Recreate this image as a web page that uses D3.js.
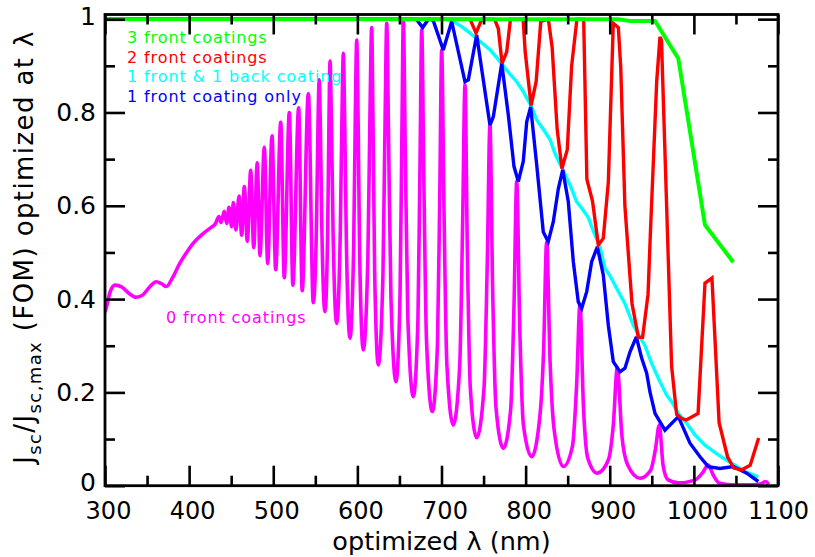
<!DOCTYPE html>
<html>
<head>
<meta charset="utf-8">
<script src="https://cdn.jsdelivr.net/npm/d3@7"></script>
<style>
  html, body { margin: 0; padding: 0; background: #fff; }
  svg { display: block; }
  text { font-family: "DejaVu Sans", sans-serif; fill: #000; }
</style>
</head>
<body>
<svg id="chart" width="815" height="557"></svg>
<script>
// ---------------- DATA ----------------
const xMajorTicks = [300, 400, 500, 600, 700, 800, 900, 1000, 1100];
const xMinorTicks = [350, 450, 550, 650, 750, 850, 950, 1050];
const yMajorTicks = [0, 0.2, 0.4, 0.6, 0.8, 1];
const yMinorTicks = [0.1, 0.3, 0.5, 0.7, 0.9];
const xTickLabels = ["300", "400", "500", "600", "700", "800", "900", "1000", "1100"];
const yTickLabels = ["0", "0.2", "0.4", "0.6", "0.8", "1"];

const legendLabels = ["3 front coatings", "2 front coatings", "1 front & 1 back coating", "1 front coating only"];
const magentaLabel = "0 front coatings";

// 0 front coatings (magenta)
const zeroWl = [300, 302, 306, 312, 320, 328, 337, 345, 353, 361, 367, 373, 380, 389, 397, 405, 417, 425, 431,
  435.5, 437.9, 441.8, 444.7, 447.4, 450.6, 452.5, 455.7, 459.3, 462.5, 465.6, 469.2, 473.2, 476.8, 481.0, 484.2,
  489.4, 493.4, 498.5, 502.9, 508.9, 513.1, 519.1, 523.3, 530.2, 534.4, 541.7, 547.6,
  551.5, 553.2, 554.6, 556.0, 557.7, 561.5, 564.8, 566.3, 567.5, 569.1, 571.1, 575.4, 579.7, 581.7, 583.3, 584.9, 586.9,
  591.2, 595.6, 597.6, 599.2, 600.8, 602.7, 607.0, 612.5, 615.0, 617.0, 618.6, 620.6, 624.9, 630.4, 632.9, 634.9,
  637.1, 639.9, 645.9, 650.7, 652.9, 654.6, 657.0, 660.0, 666.5, 672.0, 674.5, 676.5, 679.0, 682.2, 689.1,
  695.2, 698.0, 700.2, 703.0, 706.4, 714.0, 721.6, 725.1, 727.9, 730.7, 734.2, 741.8, 750.5, 754.4, 757.6,
  760.8, 764.8, 773.5, 782.2, 786.2, 789.4, 793.0, 797.4, 807.2, 817.0, 821.4, 825.0, 829.0, 833.9, 844.8,
  855.7, 860.6, 864.6, 868.7, 873.9, 885.2, 898.3, 904.2, 909.0, 914.4, 921.2, 936.0, 948.6, 954.3, 958.9,
  963.4, 969.1, 981.5, 1001.1, 1010.0, 1017.1, 1022.7, 1029.7, 1045.0, 1070.0, 1080.0, 1085.0, 1089.0];
const zeroVal = [0.372, 0.385, 0.415, 0.430, 0.426, 0.413, 0.404, 0.409, 0.426, 0.437, 0.433, 0.427, 0.445, 0.477, 0.500, 0.520, 0.541, 0.552, 0.561,
  0.577, 0.564, 0.588, 0.562, 0.597, 0.555, 0.607, 0.548, 0.621, 0.537, 0.641, 0.524, 0.676, 0.510, 0.692, 0.493,
  0.726, 0.476, 0.750, 0.463, 0.779, 0.446, 0.800, 0.430, 0.810, 0.418, 0.840, 0.392,
  0.570, 0.776, 0.870, 0.772, 0.558, 0.373, 0.561, 0.792, 0.910, 0.786, 0.545, 0.348, 0.545, 0.794, 0.927, 0.786, 0.524,
  0.316, 0.514, 0.802, 0.955, 0.796, 0.497, 0.291, 0.491, 0.800, 0.982, 0.775, 0.451, 0.259, 0.453, 0.779, 0.991,
  0.745, 0.405, 0.223, 0.407, 0.750, 0.998, 0.712, 0.360, 0.191, 0.356, 0.699, 0.977, 0.656, 0.310, 0.159,
  0.302, 0.632, 0.934, 0.587, 0.259, 0.130, 0.256, 0.559, 0.859, 0.506, 0.211, 0.103, 0.208, 0.477, 0.773,
  0.422, 0.167, 0.080, 0.163, 0.387, 0.652, 0.342, 0.130, 0.062, 0.150, 0.292, 0.523, 0.270, 0.120, 0.041,
  0.085, 0.215, 0.389, 0.171, 0.059, 0.027, 0.055, 0.130, 0.253, 0.108, 0.045, 0.016, 0.033, 0.078, 0.130,
  0.044, 0.013, 0.006, 0.012, 0.027, 0.044, 0.024, 0.006, 0.002, 0.002, 0.004, 0.009, 0.003];

// 1 front & 1 back coating (cyan)
const frontBackWl = [300, 705, 714, 724, 734, 746, 758, 769.5, 781.4, 789.4, 797.2, 807.2, 813.2, 821, 829, 834.9, 844.8,
  852.7, 860.6, 866.6, 874.5, 880.4, 888.4, 894.3, 900.3, 908.2, 918.1, 928, 941.9, 949.8, 959.7, 967.7, 973.5,
  981.5, 991.4, 1001.3, 1013.2, 1029, 1045, 1060.8, 1076.6];
const frontBackVal = [1.0, 1.0, 0.995, 0.984, 0.970, 0.952, 0.934, 0.909, 0.882, 0.866, 0.845, 0.812, 0.784, 0.764, 0.742, 0.712, 0.675,
  0.645, 0.609, 0.595, 0.575, 0.546, 0.512, 0.466, 0.450, 0.423, 0.390, 0.344, 0.300, 0.262, 0.223, 0.194, 0.180,
  0.155, 0.134, 0.109, 0.087, 0.066, 0.048, 0.030, 0.019];

// 1 front coating only (blue)
const oneFrontWl = [300, 670, 677.6, 684.5, 690, 702.1, 712.1, 727.9, 731.9, 741.8, 757.6, 761.6, 771.6, 779.4, 786.2, 791.3,
  797.2, 801.3, 806.0, 813.2, 821.0, 826.9, 832.9, 838.9, 844.1, 850.7, 856.7, 862.6, 866.6, 872.6, 878.5, 885.2,
  892.3, 898.3, 904.2, 912.2, 918.1, 924.1, 931.6, 938.0, 943.9, 947.8, 953.8, 965.6, 981.5, 995.4, 1007.3, 1017.1,
  1031.0, 1046.9, 1062.8, 1076.6];
const oneFrontVal = [1.0, 1.0, 0.982, 1.0, 0.998, 0.934, 0.995, 0.866, 0.870, 0.966, 0.773, 0.791, 0.905, 0.795, 0.684, 0.652,
  0.695, 0.780, 0.812, 0.687, 0.544, 0.523, 0.566, 0.637, 0.677, 0.609, 0.480, 0.394, 0.380, 0.416, 0.480, 0.512,
  0.452, 0.344, 0.266, 0.244, 0.252, 0.287, 0.319, 0.273, 0.241, 0.201, 0.155, 0.119, 0.148, 0.091, 0.062, 0.041,
  0.037, 0.041, 0.027, 0.009];

// 2 front coatings (red)
const twoFrontWl = [300, 734, 741, 748, 763, 767.5, 772, 777.5, 782, 797, 799.5, 806.5, 812.5, 818, 827, 831.5, 837.5, 843.2,
  849.5, 854.7, 861, 869, 872.8, 879.5, 886.4, 892.3, 898.3, 904.2, 910.2, 913, 918, 924, 926.5, 934, 939, 945.5,
  948.5, 955.8, 959.7, 961.5, 973.5, 979.5, 985.4, 991, 1005, 1013.2, 1021.5, 1030, 1040, 1047.5, 1057, 1067, 1077];
const twoFrontVal = [1.0, 1.0, 0.970, 1.0, 1.0, 0.980, 0.905, 0.930, 1.0, 1.0, 0.930, 0.815, 0.866, 0.995, 1.0, 0.940, 0.764, 0.680,
  0.720, 0.900, 1.0, 1.0, 0.657, 0.610, 0.516, 0.530, 0.650, 0.991, 0.982, 0.900, 0.600, 0.450, 0.390, 0.318, 0.318, 0.410,
  0.550, 0.866, 0.962, 0.955, 0.257, 0.153, 0.144, 0.141, 0.155, 0.434, 0.445, 0.135, 0.062, 0.038, 0.034, 0.044, 0.102];

// 3 front coatings (green)
const threeFrontWl = [300, 910, 924, 953.8, 981.5, 1013.2, 1046.9];
const threeFrontVal = [1.0, 1.0, 0.996, 0.996, 0.916, 0.559, 0.479];

// ---------------- LAYOUT / STYLE ----------------
const W = 815, H = 557;
const plot = { left: 105, right: 778, top: 14.5, bottom: 485.7 };
const colors = { zero: "#ff00ff", frontBack: "#00ffff", oneFront: "#0000ff", twoFront: "#ff0000", threeFront: "#00ff00" };

const svg = d3.select("#chart");
svg.append("rect").attr("width", W).attr("height", H).attr("fill", "#fff");

const x = d3.scaleLinear().domain([300, 1100]).range([plot.left, plot.right]);
const y = d3.scaleLinear().domain([0, 1.01]).range([plot.bottom, plot.top]);

svg.append("clipPath").attr("id", "clip").append("rect")
  .attr("x", plot.left).attr("y", plot.top - 3)
  .attr("width", plot.right - plot.left).attr("height", plot.bottom - plot.top + 3);

const g = svg.append("g").attr("clip-path", "url(#clip)");

function series(wl, val) { return wl.map((w, i) => [w, val[i]]); }

const lineLin = d3.line().x(d => x(d[0])).y(d => y(d[1])).curve(d3.curveLinear);
const lineSmooth = d3.line().x(d => x(d[0])).y(d => y(d[1])).curve(d3.curveMonotoneX);

const drawList = [
  { data: series(zeroWl, zeroVal), color: colors.zero, gen: lineSmooth, w: 3.6 },
  { data: series(frontBackWl, frontBackVal), color: colors.frontBack, gen: lineLin, w: 3.4 },
  { data: series(oneFrontWl, oneFrontVal), color: colors.oneFront, gen: lineLin, w: 3.4 },
  { data: series(twoFrontWl, twoFrontVal), color: colors.twoFront, gen: lineLin, w: 3.4 },
  { data: series(threeFrontWl, threeFrontVal), color: colors.threeFront, gen: lineLin, w: 4 }
];
drawList.forEach(s => {
  g.append("path").attr("d", s.gen(s.data)).attr("fill", "none")
    .attr("stroke", s.color).attr("stroke-width", s.w)
    .attr("stroke-linejoin", "miter").attr("stroke-miterlimit", 3);
});

// ---------------- AXES ----------------
function styleAxis(sel) {
  sel.select(".domain").remove();
  sel.selectAll(".tick line").attr("stroke", "#000").attr("stroke-width", 2.6);
}
const fs = 24;

// bottom
const bottomMajor = svg.append("g").attr("transform", `translate(0,${plot.bottom})`)
  .call(d3.axisBottom(x).tickValues(xMajorTicks).tickSize(-20).tickSizeOuter(0).tickPadding(16)
    .tickFormat((d, i) => xTickLabels[i]));
styleAxis(bottomMajor);
bottomMajor.selectAll(".tick text").attr("font-size", fs).attr("font-family", "DejaVu Sans").attr("fill", "#000")
  .attr("dx", d => (d === 1100 ? 0 : 3));
const bottomMinor = svg.append("g").attr("transform", `translate(0,${plot.bottom})`)
  .call(d3.axisBottom(x).tickValues(xMinorTicks).tickSize(-10).tickSizeOuter(0).tickFormat(""));
styleAxis(bottomMinor);

// top
const topMajor = svg.append("g").attr("transform", `translate(0,${plot.top})`)
  .call(d3.axisTop(x).tickValues(xMajorTicks).tickSize(-20).tickSizeOuter(0).tickFormat(""));
styleAxis(topMajor);
const topMinor = svg.append("g").attr("transform", `translate(0,${plot.top})`)
  .call(d3.axisTop(x).tickValues(xMinorTicks).tickSize(-10).tickSizeOuter(0).tickFormat(""));
styleAxis(topMinor);

// left
const leftMajor = svg.append("g").attr("transform", `translate(${plot.left},0)`)
  .call(d3.axisLeft(y).tickValues(yMajorTicks).tickSize(-20).tickSizeOuter(0).tickPadding(9)
    .tickFormat((d, i) => yTickLabels[i]));
styleAxis(leftMajor);
leftMajor.selectAll(".tick text").attr("font-size", fs + 1).attr("font-family", "DejaVu Sans").attr("fill", "#000")
  .attr("y", d => (d === 0 ? -3.5 : (d === 1 ? -3 : 0)));
const leftMinor = svg.append("g").attr("transform", `translate(${plot.left},0)`)
  .call(d3.axisLeft(y).tickValues(yMinorTicks).tickSize(-10).tickSizeOuter(0).tickFormat(""));
styleAxis(leftMinor);

// right
const rightMajor = svg.append("g").attr("transform", `translate(${plot.right},0)`)
  .call(d3.axisRight(y).tickValues(yMajorTicks).tickSize(-20).tickSizeOuter(0).tickFormat(""));
styleAxis(rightMajor);
const rightMinor = svg.append("g").attr("transform", `translate(${plot.right},0)`)
  .call(d3.axisRight(y).tickValues(yMinorTicks).tickSize(-10).tickSizeOuter(0).tickFormat(""));
styleAxis(rightMinor);

// frame
svg.append("rect")
  .attr("x", plot.left).attr("y", plot.top)
  .attr("width", plot.right - plot.left).attr("height", plot.bottom - plot.top)
  .attr("fill", "none").attr("stroke", "#000").attr("stroke-width", 2.8);

// ---------------- TITLES ----------------
svg.append("text")
  .attr("x", (plot.left + plot.right) / 2).attr("y", 550)
  .attr("text-anchor", "middle").attr("font-size", 25.5)
  .text("optimized λ (nm)");

const yt = svg.append("text")
  .attr("transform", "translate(33,247) rotate(-90)")
  .attr("text-anchor", "middle").attr("font-size", 26)
  .attr("letter-spacing", 1.4);
yt.append("tspan").text("J");
yt.append("tspan").attr("dy", 8).attr("font-size", 18).text("sc");
yt.append("tspan").attr("dy", -8).text("/J");
yt.append("tspan").attr("dy", 8).attr("font-size", 18).text("sc,max");
yt.append("tspan").attr("dy", -8).text(" (FOM) optimized at λ");

// ---------------- LEGEND TEXT ----------------
const legendColors = [colors.threeFront, colors.twoFront, colors.frontBack, colors.oneFront];
const legendBaselines = [43.3, 62.7, 82.2, 101.6];
legendLabels.forEach((t, i) => {
  svg.append("text").attr("x", 127).attr("y", legendBaselines[i])
    .attr("font-size", 16).attr("letter-spacing", 0.9)
    .style("fill", legendColors[i]).text(t);
});
svg.append("text").attr("x", 166).attr("y", 322.5)
  .attr("font-size", 16).attr("letter-spacing", 0.9)
  .style("fill", colors.zero).text(magentaLabel);
</script>
</body>
</html>
